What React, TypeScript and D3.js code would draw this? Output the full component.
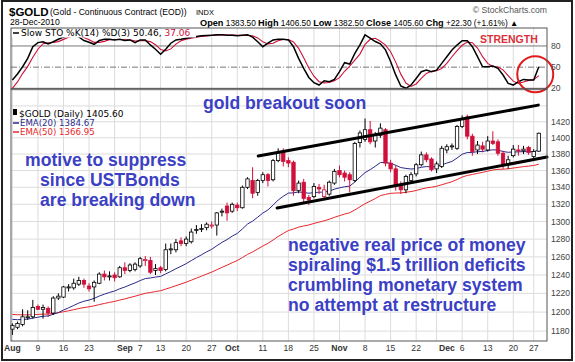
import React from "react";
import * as d3 from "d3";

// trading calendar (gold futures, Aug 2 - Dec 28 2010)
const holidays = ["2010-09-06", "2010-11-25", "2010-12-24"];

// daily candles, one per trading day
const opens = [
  1182, 1184, 1187, 1194, 1195, 1206, 1203, 1204, 1199, 1215,
  1216, 1226, 1226, 1230, 1234, 1228, 1227, 1231, 1241, 1238,
  1240, 1238, 1248, 1245, 1246, 1250, 1256, 1256, 1245, 1248,
  1246, 1268, 1268, 1278, 1275, 1277, 1291, 1292, 1293, 1296,
  1296, 1311, 1318, 1312, 1319, 1316, 1340, 1348, 1334, 1348,
  1355, 1349, 1372, 1383, 1372, 1370, 1336, 1346, 1328, 1329,
  1340, 1329, 1332, 1345, 1360, 1357, 1355, 1348, 1394, 1398,
  1410, 1396, 1403, 1410, 1369, 1362, 1343, 1337, 1348, 1356,
  1367, 1379, 1374, 1362, 1365, 1385, 1389, 1387, 1414, 1426,
  1402, 1385, 1390, 1385, 1396, 1395, 1381, 1368, 1378, 1385,
  1384, 1388, 1377, 1383.5,
];
const highs = [
  1188, 1190, 1203, 1202, 1213, 1208, 1208, 1206, 1217, 1220,
  1228, 1230, 1236, 1238, 1236, 1231, 1234, 1243, 1245, 1244,
  1243, 1250, 1254, 1253, 1254, 1260, 1261, 1260, 1252, 1250,
  1275, 1275, 1280, 1282, 1283, 1292, 1296, 1297, 1299, 1300,
  1311, 1315, 1322, 1322, 1322, 1342, 1352, 1364, 1350, 1358,
  1357, 1374, 1387, 1387, 1376, 1372, 1348, 1350, 1331, 1345,
  1344, 1343, 1348, 1362, 1366, 1360, 1358, 1395, 1409, 1424,
  1421, 1407, 1418, 1412, 1373, 1366, 1347, 1355, 1358, 1369,
  1383, 1382, 1376, 1371, 1390, 1392, 1393, 1416, 1428, 1429,
  1405, 1396, 1395, 1402, 1408, 1398, 1384, 1378, 1391, 1391,
  1390, 1390, 1386, 1406.5,
];
const lows = [
  1176, 1182, 1185, 1192, 1193, 1202, 1193, 1195, 1197, 1213,
  1215, 1222, 1224, 1228, 1226, 1222, 1211, 1230, 1234, 1234,
  1233, 1237, 1241, 1243, 1244, 1248, 1250, 1241, 1240, 1242,
  1244, 1263, 1265, 1272, 1272, 1275, 1286, 1288, 1290, 1292,
  1284, 1306, 1301, 1310, 1312, 1315, 1338, 1327, 1330, 1345,
  1341, 1347, 1370, 1365, 1364, 1330, 1333, 1322, 1319, 1327,
  1332, 1325, 1330, 1343, 1352, 1347, 1334, 1346, 1388, 1395,
  1392, 1388, 1400, 1365, 1358, 1336, 1332, 1333, 1346, 1353,
  1365, 1370, 1359, 1357, 1363, 1381, 1385, 1385, 1412, 1398,
  1378, 1380, 1382, 1383, 1391, 1378, 1362, 1362, 1376, 1378,
  1380, 1379, 1374, 1382.5,
];
const closes = [
  1186, 1188, 1195, 1195, 1205, 1203, 1205, 1199, 1215, 1217,
  1227, 1227, 1231, 1234, 1230, 1225, 1232, 1241, 1238, 1239,
  1237, 1248, 1245, 1251, 1252, 1258, 1257, 1243, 1247, 1245,
  1268, 1269, 1276, 1275, 1280, 1288, 1291, 1292, 1297, 1296,
  1310, 1312, 1310, 1320, 1316, 1340, 1350, 1333, 1348, 1355,
  1348, 1372, 1382, 1371, 1369, 1336, 1345, 1327, 1325, 1341,
  1338, 1337, 1346, 1359, 1355, 1352, 1349, 1393, 1406, 1410,
  1395, 1404, 1412, 1369, 1362, 1343, 1337, 1353, 1355, 1367,
  1379, 1373, 1361, 1368, 1387, 1389, 1390, 1414, 1424, 1402,
  1383, 1391, 1386, 1396, 1393, 1381, 1367, 1373, 1386, 1384,
  1386, 1382, 1383, 1405.6,
];

// slow stochastic %K(14)
const stoK = [
  31.8, 40.3, 50.6, 62.4, 79, 84.8, 86, 83, 86, 89.6,
  92.5, 95, 95, 93, 87.7, 85.3, 82.4, 87.7, 89.6, 89.6,
  88.6, 89.6, 87.7, 88.6, 84.8, 88.6, 88.6, 81.5, 75.4, 68.3,
  75.4, 83.9, 88.6, 89.6, 91, 92.5, 93.4, 94.4, 94.9, 95.3,
  95.8, 95.8, 95.3, 95.3, 94.4, 95.3, 95.8, 92.5, 86, 79,
  83.9, 88.6, 89.6, 89.6, 88.6, 79, 62.4, 48.2, 35.4, 27.9,
  24.6, 30.7, 29.3, 32.6, 43.5, 56.3, 54.4, 69.5, 81.5, 95.7,
  91, 86.3, 83, 74.5, 57.9, 39, 23.3, 20, 24.6, 34,
  43.5, 45.8, 43.5, 45.8, 55.3, 64.8, 74.2, 81.3, 87.5, 87.5,
  79, 64.8, 50.6, 50.6, 51.5, 48.2, 38.8, 27, 24.6, 29.3,
  32.6, 31.7, 31.7, 50.5,
];
const stoDStart = [20, 29];

// EMA values where the lines enter the chart
const ema20Seed = 1193;
const ema50Seed = 1198;

const priceTicks = [1180, 1200, 1220, 1240, 1260, 1280, 1300, 1320, 1340, 1360, 1380, 1400, 1420];
const priceGrid = [...priceTicks, 1440, 1460];
const stoLevels = [20, 50, 80];

const xTickDates = [
  "2010-08-02", "2010-08-09", "2010-08-16", "2010-08-23", "2010-09-01", "2010-09-07",
  "2010-09-13", "2010-09-20", "2010-09-27", "2010-10-01", "2010-10-11", "2010-10-18",
  "2010-10-25", "2010-11-01", "2010-11-08", "2010-11-15", "2010-11-22", "2010-12-01",
  "2010-12-06", "2010-12-13", "2010-12-20", "2010-12-27",
];
const xTickLabels = [
  "Aug", "9", "16", "23", "Sep", "7", "13", "20", "27", "Oct", "11", "18",
  "25", "Nov", "8", "15", "22", "Dec", "6", "13", "20", "27",
];

// hand-drawn channel, in (trading day, price)
const channelUpper = [[48.1, 1377.6], [102.9, 1441]];
const channelLower = [[51.8, 1315.7], [104.6, 1376.4]];

const noteTop = "gold breakout soon";
const noteLeft = ["motive to suppress", "since USTBonds", "are breaking down"];
const noteRight = [
  "negative real price of money",
  "spiraling $1.5 trillion deficits",
  "crumbling monetary system",
  "no attempt at restructure",
];

const RED = "#d0103a";
const BLUE_TEXT = "#3b40c4";
const SANS = "'Liberation Sans', Arial, sans-serif";
const VERD = "'DejaVu Sans', Verdana, sans-serif";

const fmt = d3.timeFormat("%Y-%m-%d");
const days = d3
  .timeDay.range(new Date(2010, 7, 2), new Date(2010, 11, 29))
  .filter((d) => d.getDay() % 6 !== 0 && !holidays.includes(fmt(d)));
const dayIndex = (s: string) => days.findIndex((d) => fmt(d) === s);

function ema(values: number[], period: number, seed: number) {
  const k = 2 / (period + 1);
  let prev = seed;
  return values.map((v) => (prev = prev + k * (v - prev)));
}

export default function App() {
  const left = 11;
  const right = 547;
  const stoTop = 28;
  const stoBottom = 89;
  const priceTop = 89;
  const priceBottom = 341;

  const x = d3.scaleLinear().domain([-0.27, 104.6]).range([left, right]);
  const y = d3.scaleLog().domain([1169.7, 1461.7]).range([priceBottom, priceTop]);
  const yS = d3.scaleLinear().domain([20, 105.5]).range([88.3, stoTop]);

  const ema20 = ema(closes, 20, ema20Seed);
  const ema50 = ema(closes, 50, ema50Seed);
  const stoD = stoK.map((v, i) => (i < 2 ? stoDStart[i] : (d3.mean(stoK.slice(i - 2, i + 1)) as number)));

  const priceLine = d3.line<number>().x((_, i) => x(i)).y((v) => y(v));
  const stoLine = d3.line<number>().x((_, i) => x(i)).y((v) => yS(v));

  // first trading day of each week gets a grid line
  const weekStarts = days
    .map((d, i) => i)
    .filter((i) => i === 0 || +d3.timeMonday.floor(days[i]) !== +d3.timeMonday.floor(days[i - 1]));

  const bodyW = 3.4;
  const noteSize = 17.6;

  return (
    <svg
      width={575}
      height={362}
      style={{ position: "absolute", left: 0, top: 0, background: "#fff" }}
      fontFamily={SANS}
    >
      <rect x={0} y={0} width={575} height={362} fill="#fff" />

      {/* header */}
      <text x={9} y={16} fontSize={11.5} fontWeight="bold" fill="#000">$GOLD</text>
      <text x={50} y={15} fontSize={8.6} fill="#000">(Gold - Continuous Contract (EOD))</text>
      <text x={196} y={15} fontSize={7.5} fill="#000">INDX</text>
      <text x={10} y={25} fontSize={8.6} fill="#000">28-Dec-2010</text>
      <text x={200} y={25.5} fontSize={8.3} fill="#000">
        <tspan fontWeight="bold" fontSize={9.2}>Open</tspan> 1383.50{" "}
        <tspan fontWeight="bold" fontSize={9.2}>High</tspan> 1406.50{" "}
        <tspan fontWeight="bold" fontSize={9.2}>Low</tspan> 1382.50{" "}
        <tspan fontWeight="bold" fontSize={9.2}>Close</tspan> 1405.60{" "}
        <tspan fontWeight="bold" fontSize={9.2}>Chg</tspan> +22.30 (+1.61%) ▲
      </text>
      <text x={547} y={13} fontSize={8.6} fill="#555" textAnchor="end">© StockCharts.com</text>

      {/* grids */}
      {weekStarts.map((i) => (
        <g key={"vg" + i}>
          <line x1={x(i)} x2={x(i)} y1={stoTop} y2={stoBottom} stroke="#dcdcdc" />
          <line x1={x(i)} x2={x(i)} y1={priceTop} y2={priceBottom} stroke="#dcdcdc" />
        </g>
      ))}
      {priceGrid.map((p) => (
        <line key={"hg" + p} x1={left} x2={right} y1={y(p)} y2={y(p)} stroke="#dcdcdc" />
      ))}
      {stoLevels.map((v) => (
        <line
          key={"sl" + v}
          x1={left}
          x2={right}
          y1={yS(v)}
          y2={yS(v)}
          stroke="#777"
          strokeDasharray={v === 50 ? "6,2,1,2" : undefined}
        />
      ))}

      {/* stochastic */}
      <path d={stoLine(stoD) ?? ""} fill="none" stroke={RED} strokeWidth={1.1} />
      <path d={stoLine(stoK) ?? ""} fill="none" stroke="#000" strokeWidth={1.5} />
      <rect x={left + 1} y={stoTop + 0.5} width={184} height={9} fill="#fff" />
      <line x1={13} x2={19} y1={33} y2={33} stroke="#000" strokeWidth={1.5} />
      <text x={21} y={36} fontSize={9} fontFamily={VERD} fill="#000">
        Slow STO %K(14) %D(3) 50.46, <tspan fill={RED}>37.06</tspan>
      </text>
      <text x={480} y={43} fontSize={10.5} fontWeight="bold" fill="#d9303a">STRENGTH</text>
      <circle cx={x(102.3)} cy={yS(40)} r={18} fill="none" stroke="#e01b1b" strokeWidth={2} />
      {stoLevels.map((v) => (
        <text key={"st" + v} x={551} y={yS(v) + 3} fontSize={8.6} fill="#444">{v}</text>
      ))}

      {/* EMAs */}
      <path d={priceLine(ema50) ?? ""} fill="none" stroke="#e8262b" strokeWidth={1} />
      <path d={priceLine(ema20) ?? ""} fill="none" stroke="#2a2a8c" strokeWidth={1} />

      {/* candles */}
      {closes.map((c, i) => {
        const o = opens[i];
        const col = i === 0 || c >= closes[i - 1] ? "#000" : RED;
        const top = y(Math.max(o, c));
        const h = Math.max(1, y(Math.min(o, c)) - top);
        return (
          <g key={"c" + i}>
            <line x1={x(i)} x2={x(i)} y1={y(highs[i])} y2={y(lows[i])} stroke={col} strokeWidth={1} />
            <rect
              x={x(i) - bodyW / 2}
              y={top}
              width={bodyW}
              height={h}
              fill={c >= o ? "#fff" : col}
              stroke={col}
              strokeWidth={0.8}
            />
          </g>
        );
      })}

      {/* channel */}
      {[channelUpper, channelLower].map((seg, k) => (
        <line
          key={"ch" + k}
          x1={x(seg[0][0])}
          y1={y(seg[0][1])}
          x2={x(seg[1][0])}
          y2={y(seg[1][1])}
          stroke="#000"
          strokeWidth={3}
          strokeLinecap="round"
        />
      ))}

      {/* price legend */}
      <rect x={13} y={109} width={4} height={6} fill="#000" />
      <text x={19} y={117} fontSize={9} fontFamily={VERD} fill="#000">$GOLD (Daily) 1405.60</text>
      <line x1={13} x2={19} y1={123} y2={123} stroke="#2a2a8c" strokeWidth={1.5} />
      <text x={20} y={126} fontSize={8.6} fontFamily={VERD} fill="#2a2a8c">EMA(20) 1384.67</text>
      <line x1={13} x2={19} y1={132} y2={132} stroke="#e8262b" strokeWidth={1.5} />
      <text x={20} y={135} fontSize={8.6} fontFamily={VERD} fill="#e8262b">EMA(50) 1366.95</text>

      {/* notes */}
      <text x={203} y={109} fontSize={noteSize} fontWeight="bold" fill={BLUE_TEXT}>{noteTop}</text>
      {noteLeft.map((t, k) => (
        <text key={"nl" + k} x={[25, 40, 40][k]} y={166 + k * 20} fontSize={noteSize} fontWeight="bold" fill={BLUE_TEXT}>
          {t}
        </text>
      ))}
      {noteRight.map((t, k) => (
        <text key={"nr" + k} x={288} y={251 + k * 20} fontSize={noteSize} fontWeight="bold" fill={BLUE_TEXT}>
          {t}
        </text>
      ))}

      {/* axes */}
      {priceTicks.map((p) => (
        <text key={"yt" + p} x={551} y={y(p) + 3} fontSize={8.6} fill="#444">{p}</text>
      ))}
      {xTickDates.map((d, k) => (
        <text
          key={"xt" + k}
          x={x(dayIndex(d))}
          y={351}
          fontSize={8.6}
          textAnchor="middle"
          fontWeight={/^[A-Z]/.test(xTickLabels[k]) ? "bold" : "normal"}
          fill="#333"
        >
          {xTickLabels[k]}
        </text>
      ))}

      {/* panel frames */}
      <rect x={left} y={stoTop} width={right - left} height={stoBottom - stoTop} fill="none" stroke="#555" />
      <rect x={left} y={priceTop} width={right - left} height={priceBottom - priceTop} fill="none" stroke="#555" />
      <rect x={2} y={1} width={570} height={359} fill="none" stroke="#222" strokeWidth={2} />
    </svg>
  );
}
